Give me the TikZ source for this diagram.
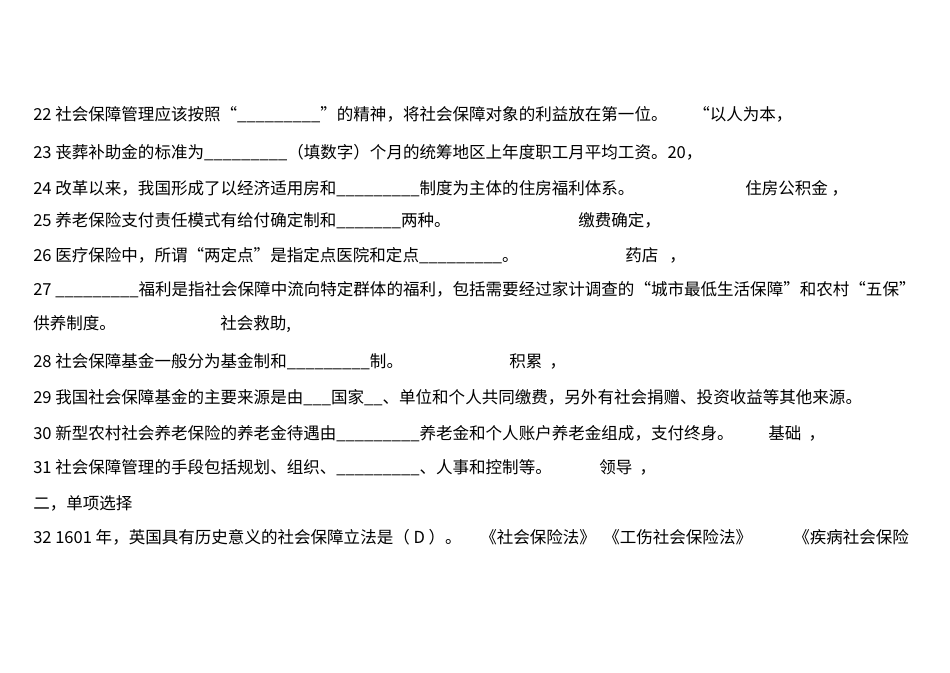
\documentclass[tikz,border=0pt]{standalone}
\usepackage{fontspec}
\setmainfont{Liberation Serif}
\newfontfamily\cjk{Noto Sans CJK SC}
\begin{document}
\begin{tikzpicture}[x=0.75pt,y=-0.75pt,
  t/.style={anchor=base west,inner sep=0pt,font=\cjk\fontsize{12.4pt}{14pt}\selectfont}]
\useasboundingbox (0,0) rectangle (950,672);
\node[t] (l22) at (33,120) {22 社会保障管理应该按照“\_\_\_\_\_\_\_\_\_”的精神，将社会保障对象的利益放在第一位。};
\node[t] (a22) at (693,120) {“以人为本，};
\node[t] (l23) at (33,158) {23 丧葬补助金的标准为\_\_\_\_\_\_\_\_\_（填数字）个月的统筹地区上年度职工月平均工资。20，};
\node[t] (l24) at (33,194) {24 改革以来，我国形成了以经济适用房和\_\_\_\_\_\_\_\_\_制度为主体的住房福利体系。};
\node[t] (a24) at (745,194) {住房公积金 ，};
\node[t] (l25) at (33,226) {25 养老保险支付责任模式有给付确定制和\_\_\_\_\_\_\_两种。};
\node[t] (a25) at (578,226) {缴费确定，};
\node[t] (l26) at (33,261) {26 医疗保险中，所谓“两定点”是指定点医院和定点\_\_\_\_\_\_\_\_\_。};
\node[t] (a26) at (625,261) {药店 \ \ ，};
\node[t] (l27) at (33,295) {27 \_\_\_\_\_\_\_\_\_福利是指社会保障中流向特定群体的福利，包括需要经过家计调查的“城市最低生活保障”和农村“五保”};
\node[t] (l27b) at (33,329) {供养制度。};
\node[t] (a27) at (220,329) {社会救助,};
\node[t] (l28) at (33,367) {28 社会保障基金一般分为基金制和\_\_\_\_\_\_\_\_\_制。};
\node[t] (a28) at (509,367) {积累 \ ，};
\node[t] (l29) at (33,403) {29 我国社会保障基金的主要来源是由\_\_\_国家\_\_、单位和个人共同缴费，另外有社会捐赠、投资收益等其他来源。};
\node[t] (l30) at (33,439) {30 新型农村社会养老保险的养老金待遇由\_\_\_\_\_\_\_\_\_养老金和个人账户养老金组成，支付终身。};
\node[t] (a30) at (768,439) {基础 \ ，};
\node[t] (l31) at (33,473) {31 社会保障管理的手段包括规划、组织、\_\_\_\_\_\_\_\_\_、人事和控制等。};
\node[t] (a31) at (599,473) {领导 \ ，};
\node[t] (h2) at (33,509) {二，单项选择};
\node[t] (l32) at (33,543) {32 1601 年，英国具有历史意义的社会保障立法是（ D ）。};
\node[t] (o1) at (480,543) {《社会保险法》};
\node[t] (o2) at (603,543) {《工伤社会保险法》};
\node[t] (o3) at (793,543) {《疾病社会保险};
\end{tikzpicture}
\end{document}
